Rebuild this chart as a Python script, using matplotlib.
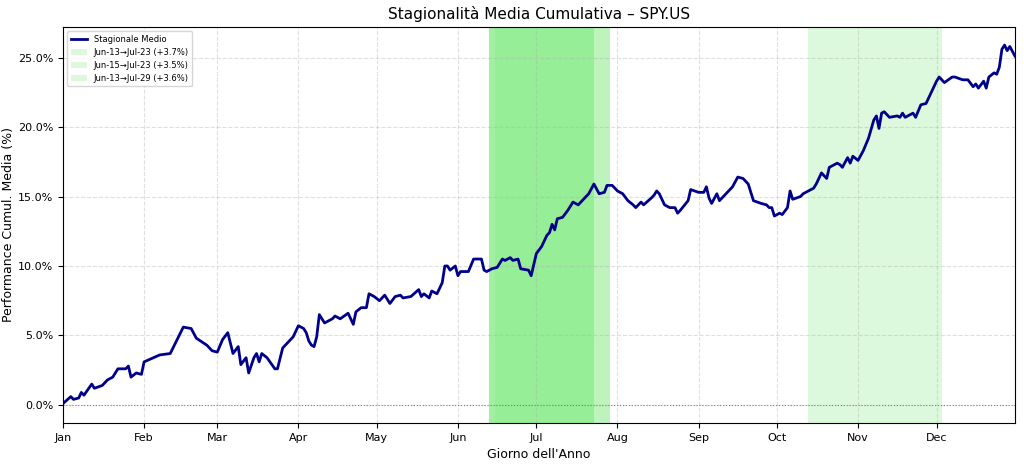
import matplotlib
matplotlib.use("Agg")
import matplotlib.pyplot as plt
from matplotlib.ticker import FuncFormatter
from matplotlib.patches import Patch

days = [1,4,5,7,8,9,12,13,16,18,20,22,25,26,27,29,31,32,38,42,47,50,52,56,58,60,62,64,66,68,69,71,72,74,75,76,77,79,82,83,85,87,89,91,93,94,95,96,97,98,99,101,104,105,107,110,112,113,115,117,118,120,122,124,126,128,130,131,134,137,138,139,141,142,144,146,147,148,149,151,152,153,156,158,161,162,163,165,167,169,170,172,173,175,176,179,180,182,184,186,187,188,189,190,192,194,196,198,200,202,204,206,208,209,211,213,215,217,219,220,222,223,226,227,228,229,231,233,235,236,237,240,241,244,246,247,248,249,251,252,254,257,259,261,263,265,268,270,271,272,273,275,276,278,279,280,283,284,286,288,289,291,293,294,297,298,299,301,302,303,305,307,309,311,312,313,314,315,317,320,321,322,323,325,326,327,329,331,332,333,335,336,338,341,342,345,347,349,350,351,353,354,355,357,358,359,360,361,362,363,365]
values = [0.1,0.6,0.4,0.5,0.9,0.7,1.5,1.2,1.4,1.8,2.0,2.6,2.6,2.8,2.0,2.3,2.2,3.1,3.6,3.7,5.6,5.5,4.8,4.3,3.9,3.8,4.7,5.2,3.7,4.2,2.9,3.4,2.3,3.4,3.7,3.1,3.7,3.4,2.6,2.6,4.1,4.5,4.9,5.7,5.5,5.2,4.6,4.3,4.2,4.9,6.5,5.9,6.2,6.4,6.2,6.6,5.8,6.7,7.0,7.0,8.0,7.8,7.5,7.9,7.3,7.8,7.9,7.7,7.8,8.3,7.8,8.0,7.7,8.2,8.0,8.8,10.0,10.0,9.7,10.0,9.3,9.6,9.6,10.5,10.5,9.7,9.6,9.8,9.9,10.5,10.4,10.6,10.4,10.5,9.8,9.7,9.3,10.9,11.4,12.2,12.4,13.0,12.6,13.4,13.5,14.0,14.6,14.4,14.8,15.2,15.9,15.2,15.3,15.8,15.8,15.4,15.2,14.7,14.4,14.2,14.6,14.4,14.9,15.1,15.4,15.2,14.4,14.2,14.2,13.8,14.0,14.7,15.5,15.3,15.3,15.7,14.9,14.5,15.2,14.7,15.1,15.7,16.4,16.3,15.9,14.7,14.5,14.4,14.2,14.2,13.6,13.8,13.7,14.2,15.4,14.8,15.0,15.2,15.4,15.6,15.9,16.7,16.3,17.1,17.4,17.3,17.1,17.8,17.4,17.9,17.6,18.3,19.2,20.5,20.8,19.9,21.0,21.1,20.7,20.8,20.7,21.0,20.7,20.9,21.0,20.7,21.6,21.7,22.1,22.5,23.3,23.6,23.2,23.6,23.6,23.4,23.4,22.9,23.1,22.8,23.3,22.8,23.6,23.9,23.8,24.3,25.6,25.9,25.5,25.8,25.1]

summer_windows = [(164, 204), (166, 204), (164, 210)]
summer_labels = ["Jun-13\u2192Jul-23 (+3.7%)", "Jun-15\u2192Jul-23 (+3.5%)", "Jun-13\u2192Jul-29 (+3.6%)"]
autumn_window = (286, 337)
month_days = [1,32,60,91,121,152,182,213,244,274,305,335]
month_labels = ["Jan","Feb","Mar","Apr","May","Jun","Jul","Aug","Sep","Oct","Nov","Dec"]

fig = plt.figure(figsize=(10.24, 4.65), dpi=100)
ax = fig.add_axes([63/1024, 42/465, 952/1024, 396/465])
for s, e in summer_windows:
    ax.axvspan(s, e, color="lightgreen", alpha=0.6, lw=0)
ax.axvspan(*autumn_window, color="lightgreen", alpha=0.3, lw=0)
line, = ax.plot(days, values, color="darkblue", lw=2)
ax.axhline(0, color="gray", ls=":", lw=0.8)
ax.set_xlim(1, 365)
ax.set_ylim(-1.3, 27.2)
ax.set_xticks(month_days)
ax.set_xticklabels(month_labels, fontsize=8)
ax.tick_params(axis="y", labelsize=8)
ax.yaxis.set_major_formatter(FuncFormatter(lambda v, p: f"{v:.1f}%"))
ax.grid(True, ls="--", alpha=0.4)
ax.set_title("Stagionalit\u00e0 Media Cumulativa \u2013 SPY.US", fontsize=11)
ax.set_xlabel("Giorno dell'Anno", fontsize=9)
ax.set_ylabel("Performance Cumul. Media (%)", fontsize=9, labelpad=2)
handles = [line] + [Patch(facecolor="lightgreen", alpha=0.3) for _ in summer_labels]
ax.legend(handles, ["Stagionale Medio"] + summer_labels, loc="upper left", fontsize=6)
fig.savefig("out.png", dpi=100)
